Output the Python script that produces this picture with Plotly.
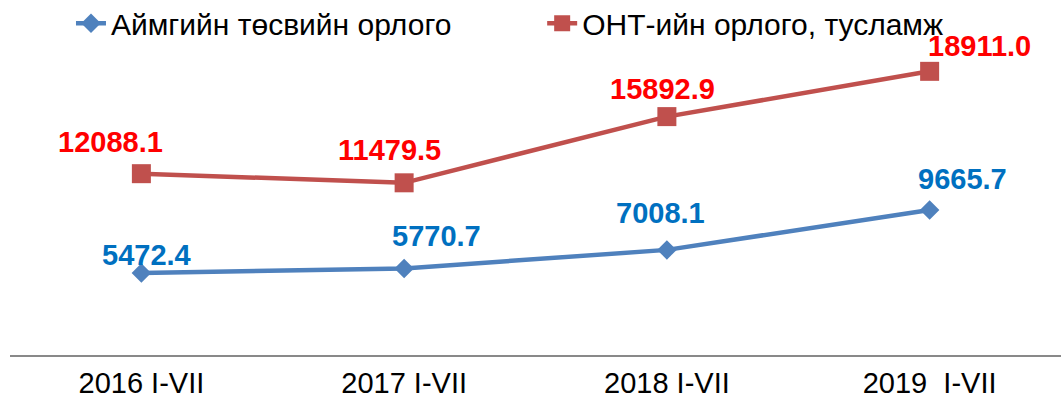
import plotly.graph_objects as go

categories = ["2016 I-VII", "2017 I-VII", "2018 I-VII", "2019\u00a0\u00a0I-VII"]
series_names = ["Аймгийн төсвийн орлого", "ОНТ-ийн орлого, тусламж"]
aimag_income = [5472.4, 5770.7, 7008.1, 9665.7]
ont_income = [12088.1, 11479.5, 15892.9, 18911.0]

FONT = "Liberation Sans, Arial, sans-serif"
BLUE_LINE, RED_LINE = "#4F81BD", "#C0504D"
BLUE_TEXT, RED_TEXT = "#0070C0", "#FF0000"
CLEAR = "rgba(0,0,0,0)"

# label offsets (px) relative to each marker, and label box fills
blue_offsets = [(5, 18), (32, 32), (-6, 37), (33, 31)]
red_offsets = [(-31, 32), (-15, 33), (-4, 28), (50, 25)]
blue_fills = [CLEAR, CLEAR, CLEAR, CLEAR]
red_fills = [CLEAR, "white", "white", CLEAR]

fig = go.Figure()
fig.add_trace(go.Scatter(
    x=categories, y=aimag_income, name=series_names[0], mode="lines+markers",
    line=dict(color=BLUE_LINE, width=4.5),
    marker=dict(symbol="diamond", size=15, color=BLUE_LINE),
    legend="legend",
))
fig.add_trace(go.Scatter(
    x=categories, y=ont_income, name=series_names[1], mode="lines+markers",
    line=dict(color=RED_LINE, width=4.5),
    marker=dict(symbol="square", size=19, color=RED_LINE),
    legend="legend2",
))

for vals, offs, fills, col in [(aimag_income, blue_offsets, blue_fills, BLUE_TEXT),
                               (ont_income, red_offsets, red_fills, RED_TEXT)]:
    for c, v, (dx, dy), bg in zip(categories, vals, offs, fills):
        fig.add_annotation(
            x=c, y=v, text=f"{v:.1f}", showarrow=False,
            xshift=dx, yshift=dy, bgcolor=bg, borderpad=0,
            font=dict(family=FONT, size=29, color=col, weight="bold"),
        )

legend_style = dict(orientation="h", yanchor="middle", xanchor="left",
                    xref="container", yref="container",
                    font=dict(family=FONT, size=30, color="black"),
                    bgcolor="rgba(0,0,0,0)", borderwidth=0)
fig.update_layout(
    width=1061, height=408, autosize=False,
    margin=dict(l=10, r=0, t=55, b=53),
    paper_bgcolor="white", plot_bgcolor="white",
    legend=dict(x=0.0669, y=0.943, **legend_style),
    legend2=dict(x=0.511, y=0.943, **legend_style),
    xaxis=dict(type="category", range=[-0.5, 3.5], showgrid=False, zeroline=False,
               showline=True, linecolor="#898989", linewidth=2, ticks="",
               tickfont=dict(family=FONT, size=29, color="black"), ticklabelstandoff=1),
    yaxis=dict(range=[0, 20000], showgrid=False, zeroline=False, showticklabels=False,
               showline=False, ticks=""),
    showlegend=True,
)

fig.write_html("out.html", config={"displayModeBar": False},
               post_script="document.body.style.margin='0';")
